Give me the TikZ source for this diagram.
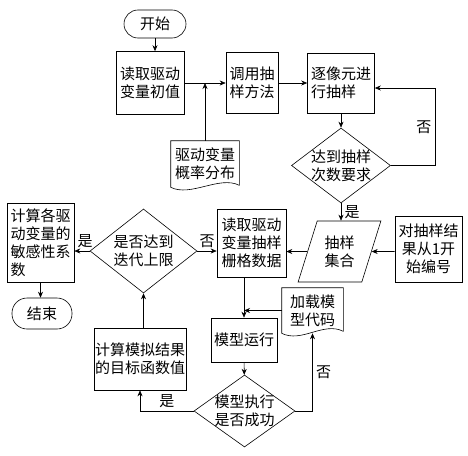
\documentclass[tikz,border=0pt]{standalone}
\usepackage{fontspec}
\setmainfont{Noto Sans CJK SC}
\usetikzlibrary{positioning, shapes.geometric, arrows.meta}

\begin{document}
\begin{tikzpicture}[x=1pt, y=-1pt,
    every node/.style={font=\fontsize{15}{18}\selectfont},
    box/.style={draw, rectangle, inner sep=1pt, align=center},
    term/.style={draw, rectangle, rounded corners=14pt, inner sep=1pt},
    cond/.style={draw, diamond, inner sep=-8pt, align=center},
    para/.style={draw, trapezium, trapezium left angle=68, trapezium right angle=112,
                 trapezium stretches=true, inner sep=1pt, align=center},
    doc/.style={inner sep=1pt, align=center},
    >={Stealth[length=6pt, width=5pt]}, ->, line width=0.6pt]
    \useasboundingbox (0,0) rectangle (468,455);

    \node [term, minimum width=62, minimum height=28] (start) at (155,24) {开始};
    \node [box, minimum width=68, minimum height=63] (read_init) at (150,83) {读取驱动\\变量初值};
    \node [box, minimum width=52, minimum height=61] (call_method) at (252,83) {调用抽\\样方法};
    \node [box, align=left, minimum width=67, minimum height=60] (pixel_sample) at (341,83) {逐像元进\\行抽样};
    \node [doc, minimum width=68, minimum height=46] (pdf) at (205,164) {驱动变量\\概率分布};
    \node [cond, minimum width=99, minimum height=75] (reach) at (341,165.5) {达到抽样\\次数要求};
    \node [para, minimum width=83, minimum height=61] (sample_set) at (339.5,251.5) {抽样\\集合};
    \node [box, minimum width=67, minimum height=66] (number) at (428.5,249) {对抽样结\\果从1开\\始编号};
    \node [box, minimum width=69, minimum height=68] (read_grid) at (251.5,243) {读取驱动\\变量抽样\\栅格数据};
    \node [cond, minimum width=107, minimum height=84] (iter) at (143.5,251) {是否达到\\迭代上限};
    \node [box, align=left, minimum width=67, minimum height=79] (sens) at (40.5,242.5) {计算各驱\\动变量的\\敏感性系\\数};
    \node [term, rounded corners=15pt, minimum width=60, minimum height=31] (finish) at (42,313.5) {结束};
    \node [box, minimum width=92, minimum height=62] (objective) at (140,359) {计算模拟结果\\的目标函数值};
    \node [box, minimum width=66, minimum height=44] (run) at (244,340) {模型运行};
    \node [doc, minimum width=61, minimum height=45] (load) at (312.5,310.5) {加载模\\型代码};
    \node [cond, minimum width=101, minimum height=72] (success) at (244.5,411) {模型执行\\是否成功};

    % document outlines with wavy bottom
    \foreach \d in {pdf, load} {
      \draw [-] (\d.south west) .. controls +(20,10) and +(-20,-10) .. ([yshift=2pt]\d.south east)
        -- (\d.north east) -- (\d.north west) -- cycle;
    }

    \coordinate (loop_r) at (435,88);

    \draw (start.south) -- (start.south |- read_init.north);
    \draw (read_init) -- (call_method);
    \draw (pdf.north) -- (pdf.north |- read_init.east);
    \draw (call_method) -- (pixel_sample);
    \draw (pixel_sample) -- (reach);
    \draw (reach.east) -| node [pos=0.75, left] {否} (loop_r) -- (pixel_sample.east |- loop_r);
    \draw (reach.south) -- node [right] {是} (reach.south |- sample_set.north);
    \draw (number.west |- sample_set) -- (sample_set.east);
    \draw (sample_set.west) -- (sample_set.west -| read_grid.east);
    \draw (iter.east) -- node [above] {否} (iter.east -| read_grid.west);
    \draw (iter.west) -- node [above, pos=0.3] {是} (iter.west -| sens.east);
    \draw (sens.south) -- (sens.south |- finish.north);
    \draw (iter.south |- objective.north) -- (iter.south);
    \draw (read_grid.south -| run.north) -- (run.north);
    \draw (load.west) -- (load.west -| run.north);
    \draw (run) -- (success);
    \draw (success.west) -| node [pos=0.25, above] {是} (objective.south);
    \draw (success.east) -| node [pos=0.75, right] {否} (load.south);
\end{tikzpicture}
\end{document}
